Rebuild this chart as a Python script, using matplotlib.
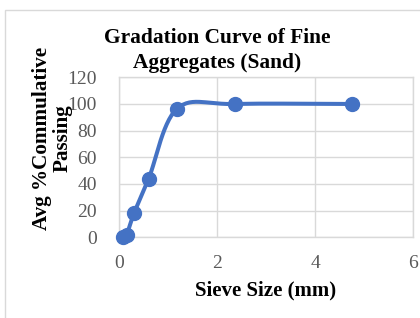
import numpy as np
import matplotlib
matplotlib.use("Agg")
import matplotlib.pyplot as plt
from matplotlib.patches import Rectangle

sieve_mm = [0.075, 0.15, 0.3, 0.6, 1.18, 2.36, 4.75]
passing = [0.5, 2, 18, 44, 96.5, 100, 100]
x_ticks = [0, 2, 4, 6]
y_ticks = [0, 20, 40, 60, 80, 100, 120]

W, H = 420, 318
fig = plt.figure(figsize=(W / 100, H / 100), dpi=100)
fig.patch.set_facecolor("white")
serif = ["Liberation Serif", "DejaVu Serif"]

# chart border
fig.add_artist(Rectangle((5 / W, -0.1), 1.2, 1 - 10 / H + 0.1, transform=fig.transFigure,
                         fill=False, edgecolor="#d9d9d9", linewidth=1.0))

ax = fig.add_axes([119.3 / W, 1 - 237.3 / H, 294 / W, 160 / H])
ax.set_xlim(0, 6)
ax.set_ylim(0, 120)
ax.set_xticks(x_ticks)
ax.set_yticks(y_ticks)
ax.grid(True, color="#d9d9d9", linewidth=1.0)
ax.set_axisbelow(True)
for s in ax.spines.values():
    s.set_color("#d9d9d9")
    s.set_linewidth(1.0)
ax.tick_params(length=0, labelsize=14, labelcolor="#595959", pad=13)
for lab in ax.get_xticklabels() + ax.get_yticklabels():
    lab.set_family(serif)
ax.tick_params(axis="y", pad=16)

# smoothed line (Catmull-Rom in display-normalized space)
xs = np.array(sieve_mm) / 6.0 * 294
ys = np.array(passing) / 120.0 * 160
P = np.column_stack([xs, ys])
Pext = np.vstack([P[0] - (P[1] - P[0]), P, P[-1] + (P[-1] - P[-2])])
pts = []
t = np.linspace(0, 1, 30)
for i in range(1, len(Pext) - 2):
    p0, p1, p2, p3 = Pext[i - 1], Pext[i], Pext[i + 1], Pext[i + 2]
    b1 = p1 + (p2 - p0) / 6
    b2 = p2 - (p3 - p1) / 6
    seg = ((1 - t) ** 3)[:, None] * p1 + (3 * (1 - t) ** 2 * t)[:, None] * b1 \
        + (3 * (1 - t) * t ** 2)[:, None] * b2 + (t ** 3)[:, None] * p2
    pts.append(seg)
pts = np.vstack(pts)
ax.plot(pts[:, 0] / 294 * 6, pts[:, 1] / 160 * 120, color="#4472C4", linewidth=2.9,
        solid_capstyle="round", zorder=3, clip_on=False)
ax.plot(sieve_mm, passing, "o", color="#4472C4", markersize=10, zorder=4, clip_on=False)

fig.text(217 / W, 1 - 38 / H, "Gradation Curve of Fine", ha="center", va="center",
         fontsize=15.4, fontweight="bold", family=serif)
fig.text(217 / W, 1 - 63 / H, "Aggregates (Sand)", ha="center", va="center",
         fontsize=15.4, fontweight="bold", family=serif)
fig.text(266 / W, 1 - 290 / H, "Sieve Size (mm)", ha="center", va="center",
         fontsize=15, fontweight="bold", family=serif)
fig.text(52 / W, 1 - 138 / H, "Avg %Commulative\nPassing", ha="center", va="center",
         rotation=90, fontsize=15.2, fontweight="bold", family=serif, linespacing=1.05,
         multialignment="center")

fig.savefig("out.png", dpi=100, facecolor="white")
